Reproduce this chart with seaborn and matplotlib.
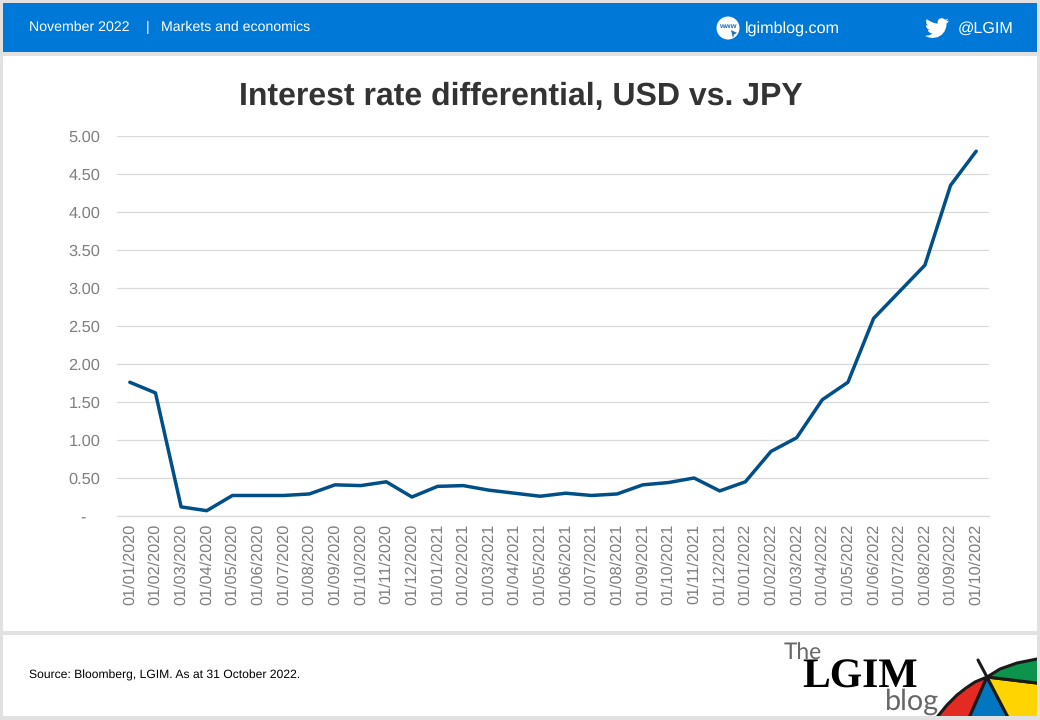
import matplotlib
matplotlib.use("Agg")
import matplotlib.pyplot as plt
from matplotlib.patches import Rectangle, Circle, Polygon
import pandas as pd
import seaborn as sns

# datas mensais e diferencial de juros
dates = [
    "01/01/2020", "01/02/2020", "01/03/2020", "01/04/2020", "01/05/2020", "01/06/2020",
    "01/07/2020", "01/08/2020", "01/09/2020", "01/10/2020", "01/11/2020", "01/12/2020",
    "01/01/2021", "01/02/2021", "01/03/2021", "01/04/2021", "01/05/2021", "01/06/2021",
    "01/07/2021", "01/08/2021", "01/09/2021", "01/10/2021", "01/11/2021", "01/12/2021",
    "01/01/2022", "01/02/2022", "01/03/2022", "01/04/2022", "01/05/2022", "01/06/2022",
    "01/07/2022", "01/08/2022", "01/09/2022", "01/10/2022",
]
differential = [
    1.76, 1.62, 0.12, 0.07, 0.27, 0.27, 0.27, 0.29, 0.41, 0.40, 0.45, 0.25,
    0.39, 0.40, 0.34, 0.30, 0.26, 0.30, 0.27, 0.29, 0.41, 0.44, 0.50, 0.33,
    0.45, 0.85, 1.03, 1.53, 1.76, 2.60, 2.95, 3.30, 4.35, 4.80,
]
y_ticks = [0, 0.5, 1, 1.5, 2, 2.5, 3, 3.5, 4, 4.5, 5]
y_labels = ["-   ", "0.50", "1.00", "1.50", "2.00", "2.50", "3.00", "3.50", "4.00", "4.50", "5.00"]

W, H = 1040, 720
BLUE = "#0078D7"
LINE = "#004F86"
GRID = "#D9D9D9"
TICKTXT = "#7F7F7F"
FRAME = "#E1E1E1"

sns.set_theme(style="white")
plt.rcParams["font.family"] = ["Liberation Sans", "DejaVu Sans"]
plt.rcParams["text.hinting"] = "no_hinting"

fig = plt.figure(figsize=(W / 100, H / 100), dpi=100, facecolor=FRAME)

# camada de fundo em pixels
bg = fig.add_axes([0, 0, 1, 1], zorder=0)
bg.set_xlim(0, W)
bg.set_ylim(H, 0)
bg.axis("off")
bg.add_patch(Rectangle((3, 3), 1034, 49, fc=BLUE, ec="none"))
bg.add_patch(Rectangle((3, 56), 1034, 575, fc="white", ec="none"))
bg.add_patch(Rectangle((3, 635), 1034, 81, fc="white", ec="none"))

# cabecalho
bg.text(29, 27.5, "November 2022", color="white", fontsize=10.2, va="center")
bg.text(146, 27.5, "|", color="white", fontsize=10.2, va="center")
bg.text(161, 27.5, "Markets and economics", color="white", fontsize=10.2, va="center")
bg.text(745, 28.5, "lgimblog.com", color="white", fontsize=11.6, va="center")
bg.text(958, 28.5, "@LGIM", color="white", fontsize=11.6, va="center")
bg.add_patch(Circle((728, 28), 11.5, fc="white", ec="none"))
bg.text(727.5, 26.5, "www", color="#1F6FB5", fontsize=5.4, fontweight="bold", ha="center", va="center")
bg.add_patch(Polygon([(731, 30), (737, 33), (734, 34.5), (733, 38)], fc="#1F6FB5", ec="none"))

# passaro do twitter, desenhado a mao
bird = [(24, 4.6), (21.1, 5.35), (23.3, 2.6), (20.2, 3.8), (18.6, 2.6), (16.4, 2.1), (14.4, 2.8),
        (13, 4.4), (12.6, 6), (12.7, 7.6), (9, 7), (5, 5.2), (1.6, 3.2), (1, 5.6), (1.6, 7.9),
        (3.2, 9.7), (0.9, 9.1), (1.3, 11.2), (2.6, 12.9), (4.8, 14), (2.7, 14.1), (3.8, 16),
        (5.5, 17.1), (7.4, 17.5), (4.6, 19.2), (0, 19.9), (3.4, 21.3), (7.5, 22), (12.5, 21.2),
        (16.6, 18.9), (19.6, 15.3), (21.2, 11.2), (21.55, 7.5), (23, 6.2)]
bg.add_patch(Polygon([(925 + x, 16 + y) for x, y in bird], fc="white", ec="none"))

# titulo e fonte
bg.text(521, 105, "Interest rate differential, USD vs. JPY", color="#333333", fontsize=23,
        fontweight="bold", ha="center", va="baseline")
bg.text(29, 675, "Source: Bloomberg, LGIM. As at 31 October 2022.", color="black", fontsize=8.75, va="center")

# logo
bg.text(784, 660, "The", color="#666666", fontsize=16.4, fontfamily="Lato", va="baseline")
bg.text(802, 688, "LGIM", color="black", fontsize=30, fontfamily="Liberation Serif", fontweight="bold",
        va="baseline")
bg.text(885, 710, "blog", color="#666666", fontsize=20.7, fontfamily="Lato", va="baseline")

# guarda-chuva: os poligonos passam da moldura e sao cobertos por ela
hub = (987, 677)
wedges = [
    ("#E32B23", [hub, (966, 725), (931, 725), (938, 716), (947, 705), (957, 695), (966, 688), (975, 682)]),
    ("#0077C0", [hub, (966, 725), (1012, 725)]),
    ("#FFD400", [hub, (1012, 725), (1045, 725), (1045, 684)]),
    ("#0C944D", [hub, (1045, 684), (1045, 657), (1037, 659), (1017, 663), (1000, 669)]),
]
for colour, pts in wedges:
    bg.add_patch(Polygon(pts, fc=colour, ec="#1A1A1A", lw=2.2, joinstyle="round"))
bg.plot([978, 987], [660, 677], color="#1A1A1A", lw=2.2)
bg.add_patch(Rectangle((925, 716), 115, 4, fc=FRAME, ec="none", zorder=5))
bg.add_patch(Rectangle((1037, 635), 3, 85, fc=FRAME, ec="none", zorder=5))

# grafico principal
ax = fig.add_axes([117 / W, 1 - 516 / H, 872 / W, 380 / H], zorder=1)
ax.patch.set_alpha(0)
df = pd.DataFrame({"pos": range(len(dates)), "diff": differential})
sns.lineplot(data=df, x="pos", y="diff", color=LINE, linewidth=2.5, ax=ax, legend=False)

ax.set_xlim(-0.5, len(dates) - 0.5)
ax.set_ylim(0, 5)
ax.set_xlabel("")
ax.set_ylabel("")
ax.set_yticks(y_ticks)
ax.set_yticklabels(y_labels, fontsize=11.8, color=TICKTXT)
ax.set_xticks(list(df["pos"]))
ax.set_xticklabels(dates, rotation=90, fontsize=11.7, color=TICKTXT)
ax.set_xticks([i - 0.5 for i in range(len(dates) + 1)], minor=True)
ax.tick_params(axis="x", which="major", length=0, pad=5.5)
ax.tick_params(axis="x", which="minor", length=5, width=0.9, color=GRID)
ax.tick_params(axis="y", length=0, pad=12)
ax.grid(axis="y", color=GRID, linewidth=0.9)
ax.set_axisbelow(True)
sns.despine(ax=ax, left=True)
ax.spines["bottom"].set_color(GRID)
ax.spines["bottom"].set_linewidth(0.9)

fig.savefig("out.png", dpi=100, facecolor=fig.get_facecolor())
